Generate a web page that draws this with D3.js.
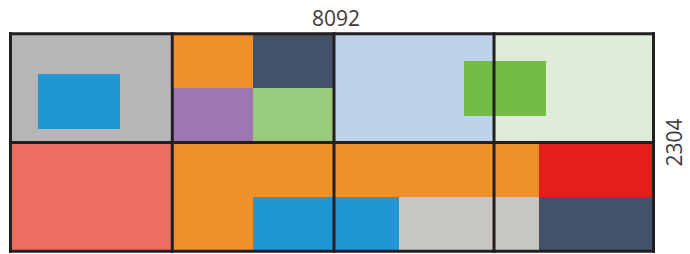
<!DOCTYPE html>
<html>

<head>
    <meta charset="utf-8">
    <title>Tile layout</title>
    <script type="text/javascript" src="https://d3js.org/d3.v7.min.js"></script>
    <style>
        body { margin: 0; background: #fff; }
    </style>
</head>

<body>
    <script type="text/javascript">
        //Overall size of the sheet
        var totalWidth = 8092;
        var totalHeight = 2304;

        //Grid edges
        var colEdges = [0, 2036, 4071, 6085, 8092];
        var rowEdges = [0, 1152, 2304];

        //Tiles: extents in sheet units, plus a colour key
        var tileX0 = [0, 346, 2036, 3052, 2036, 3052, 4071, 6085, 5707, 0, 2036, 2036, 3052, 4889, 6651, 6651];
        var tileX1 = [2036, 1378, 3052, 4071, 3052, 4071, 6085, 8092, 6739, 2036, 6651, 3052, 4889, 6651, 8092, 8092];
        var tileY0 = [0, 427, 0, 0, 575, 575, 0, 0, 289, 1152, 1152, 1729, 1729, 1729, 1152, 1729];
        var tileY1 = [1152, 1009, 575, 575, 1152, 1152, 1152, 1152, 871, 2304, 1729, 2304, 2304, 2304, 1729, 2304];
        var tileKey = ["gray", "blue", "orange", "slate", "purple", "lightgreen", "lightblue", "palegreen", "green",
            "salmon", "orange", "orange", "blue", "stone", "red", "slate"];

        //Width and height
        var w = 690;
        var h = 254;

        var x = d3.scaleLinear().domain([0, totalWidth]).range([10.5, 653.5]);
        var y = d3.scaleLinear().domain([0, totalHeight]).range([33.7, 251.3]);

        var color = d3.scaleOrdinal()
            .domain(["gray", "blue", "orange", "slate", "purple", "lightgreen", "lightblue", "palegreen", "green", "salmon", "stone", "red"])
            .range(["#b5b6b5", "#2196d4", "#f0902b", "#425369", "#9e77b2", "#99cb7c", "#bcd3ea", "#dfebd6", "#72bc46", "#ec6e61", "#c8c6c0", "#e41f1a"]);

        var svg = d3.select("body")
            .append("svg")
            .attr("width", w)
            .attr("height", h);

        var tiles = tileKey.map(function(k, i) {
            return { key: k, x0: tileX0[i], x1: tileX1[i], y0: tileY0[i], y1: tileY1[i] };
        });

        //Coloured tiles
        svg.selectAll("rect.tile")
            .data(tiles)
            .enter()
            .append("rect")
            .attr("class", "tile")
            .attr("x", d => x(d.x0))
            .attr("y", d => y(d.y0))
            .attr("width", d => x(d.x1) - x(d.x0))
            .attr("height", d => y(d.y1) - y(d.y0))
            .style("fill", d => color(d.key));

        //Grid lines on top
        var lineColor = "#231f20";
        svg.selectAll("line.v")
            .data(colEdges)
            .enter()
            .append("line")
            .attr("class", "v")
            .attr("x1", d => x(d))
            .attr("x2", d => x(d))
            .attr("y1", y(0) - 1.5)
            .attr("y2", y(totalHeight) + 1.5)
            .style("stroke", lineColor)
            .style("stroke-width", 3);

        svg.selectAll("line.h")
            .data(rowEdges)
            .enter()
            .append("line")
            .attr("class", "h")
            .attr("x1", x(0) - 1.5)
            .attr("x2", x(totalWidth) + 1.5)
            .attr("y1", d => y(d))
            .attr("y2", d => y(d))
            .style("stroke", lineColor)
            .style("stroke-width", 3);

        //Size labels
        svg.append("text")
            .attr("x", 336)
            .attr("y", 26)
            .attr("text-anchor", "middle")
            .style("font-family", "'Open Sans', sans-serif")
            .style("font-size", "21px")
            .style("fill", "#3a3a3a")
            .text(totalWidth);

        svg.append("text")
            .attr("transform", "translate(682," + y(totalHeight / 2) + ") rotate(-90)")
            .attr("text-anchor", "middle")
            .style("font-family", "'Open Sans', sans-serif")
            .style("font-size", "21px")
            .style("fill", "#3a3a3a")
            .text(totalHeight);
    </script>
</body>

</html>
